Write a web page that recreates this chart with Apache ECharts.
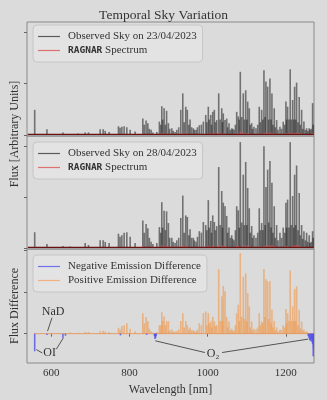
<!DOCTYPE html>
<html><head><meta charset="utf-8">
<script src="https://cdn.jsdelivr.net/npm/echarts@6.0.0/dist/echarts.min.js"></script>
<style>html,body{margin:0;padding:0;background:#dbdbdb}#c{width:327px;height:400px}</style>
</head><body><div id="c"></div>
<script>
// ---- data (wavelength in nm, flux in arbitrary units) ----
const lineWaves = [
  557.7, 589.0, 629.9, 648.5, 668, 686.8, 695.3, 725.1, 732.8, 738,
  748, 771.9, 776, 780.6, 786.4, 793.3, 801.8, 814.5, 834.2, 838,
  842.6, 847, 851, 855.4, 860, 870, 876.6, 880, 882.7, 885,
  888.6, 892, 895, 899.6, 903, 908.3, 912, 916.7, 921, 926,
  931.3, 936.4, 940, 944, 948.1, 952, 955, 959, 963.4, 966,
  970.3, 974, 978.8, 984, 989, 995.1, 998, 1001.7, 1004, 1007.9,
  1010, 1013, 1017.1, 1020, 1023.2, 1028.3, 1032, 1036, 1038, 1040,
  1044.4, 1048.7, 1051, 1054.6, 1058, 1061.5, 1064, 1067.4, 1071, 1074.3,
  1078.4, 1081, 1083.5, 1087, 1091.1, 1094, 1097.3, 1100, 1102.4, 1106.5,
  1109, 1112.6, 1115, 1118.5, 1123.6, 1128, 1132, 1135, 1138.1, 1141,
  1144, 1147, 1149.1, 1153.5, 1156, 1159.3, 1162, 1164.4, 1167, 1170.3,
  1173, 1176.4, 1180, 1184.9, 1189, 1193.3, 1197, 1200.2, 1202, 1204.5,
  1208, 1211.2, 1214, 1217.3, 1220, 1222.4, 1225, 1227.5, 1231, 1234.2,
  1237, 1240.3, 1243, 1246.2, 1250, 1253.1, 1256, 1259.7, 1262, 1265,
  1268.4, 1270
];
const flux23 = [
  0.49, 0.11, 0.05, 0.02, 0.03, 0.05, 0.05, 0.11, 0.11, 0.08,
  0.06, 0.17, 0.14, 0.16, 0.17, 0.15, 0.10, 0.07, 0.32, 0.20,
  0.28, 0.23, 0.12, 0.10, 0.05, 0.06, 0.26, 0.20, 0.56, 0.30,
  0.52, 0.20, 0.47, 0.23, 0.12, 0.13, 0.08, 0.06, 0.10, 0.15,
  0.49, 0.81, 0.25, 0.55, 0.49, 0.20, 0.30, 0.15, 0.13, 0.10,
  0.10, 0.15, 0.19, 0.20, 0.26, 0.39, 0.25, 0.55, 0.30, 0.39,
  0.20, 0.45, 0.49, 0.25, 0.29, 0.81, 0.30, 0.52, 0.25, 0.42,
  0.29, 0.32, 0.15, 0.23, 0.10, 0.13, 0.12, 0.10, 0.20, 0.45,
  0.36, 0.30, 1.23, 0.35, 0.81, 0.30, 0.87, 0.30, 0.65, 0.52,
  0.20, 0.23, 0.12, 0.16, 0.13, 0.20, 0.55, 0.25, 0.49, 0.30,
  1.26, 0.35, 1.04, 0.94, 0.30, 1.10, 0.30, 0.81, 0.20, 0.52,
  0.15, 0.29, 0.10, 0.16, 0.12, 0.26, 0.20, 0.65, 0.30, 0.55,
  0.30, 1.28, 0.30, 0.68, 0.30, 0.94, 0.30, 1.02, 0.25, 0.74,
  0.20, 0.49, 0.12, 0.26, 0.10, 0.13, 0.08, 0.13, 0.10, 0.12,
  0.62, 0.20
];
const model23 = [
  0.47, 0.10, 0.05, 0.02, 0.03, 0.05, 0.05, 0.12, 0.12, 0.08,
  0.06, 0.18, 0.14, 0.17, 0.18, 0.16, 0.10, 0.07, 0.35, 0.20,
  0.30, 0.25, 0.12, 0.10, 0.05, 0.06, 0.28, 0.20, 0.60, 0.30,
  0.55, 0.20, 0.50, 0.24, 0.12, 0.13, 0.08, 0.06, 0.10, 0.15,
  0.52, 0.85, 0.25, 0.58, 0.52, 0.20, 0.32, 0.15, 0.13, 0.10,
  0.10, 0.15, 0.20, 0.20, 0.28, 0.42, 0.25, 0.58, 0.30, 0.42,
  0.20, 0.48, 0.52, 0.25, 0.31, 0.86, 0.30, 0.55, 0.25, 0.45,
  0.31, 0.34, 0.15, 0.24, 0.10, 0.13, 0.12, 0.10, 0.20, 0.48,
  0.39, 0.30, 1.29, 0.35, 0.85, 0.30, 0.91, 0.30, 0.69, 0.55,
  0.20, 0.24, 0.12, 0.17, 0.13, 0.20, 0.58, 0.25, 0.52, 0.30,
  1.30, 0.35, 1.09, 0.98, 0.30, 1.15, 0.30, 0.85, 0.20, 0.55,
  0.15, 0.31, 0.10, 0.17, 0.12, 0.28, 0.20, 0.69, 0.30, 0.58,
  0.30, 1.32, 0.30, 0.72, 0.30, 0.98, 0.30, 1.06, 0.25, 0.78,
  0.20, 0.52, 0.12, 0.28, 0.10, 0.14, 0.08, 0.14, 0.10, 0.13,
  0.66, 0.20
];
const flux28 = [
  0.31, 0.08, 0.04, 0.03, 0.02, 0.10, 0.06, 0.15, 0.15, 0.12,
  0.10, 0.28, 0.22, 0.25, 0.30, 0.31, 0.22, 0.10, 0.54, 0.30,
  0.47, 0.39, 0.20, 0.12, 0.08, 0.10, 0.41, 0.30, 0.90, 0.40,
  0.73, 0.35, 0.72, 0.49, 0.20, 0.20, 0.12, 0.10, 0.15, 0.20,
  0.59, 1.03, 0.30, 0.64, 0.61, 0.25, 0.37, 0.20, 0.20, 0.15,
  0.12, 0.22, 0.33, 0.30, 0.51, 0.45, 0.35, 0.94, 0.40, 0.53,
  0.30, 0.64, 0.51, 0.35, 0.43, 1.59, 0.45, 1.12, 0.40, 0.89,
  0.82, 0.63, 0.30, 0.40, 0.20, 0.25, 0.18, 0.15, 0.35, 0.82,
  0.74, 0.40, 2.08, 0.50, 1.44, 0.45, 1.69, 0.45, 1.18, 0.78,
  0.30, 0.43, 0.20, 0.25, 0.20, 0.30, 0.78, 0.35, 0.49, 0.35,
  2.00, 0.45, 1.20, 1.54, 0.50, 1.71, 0.40, 1.28, 0.30, 0.82,
  0.20, 0.45, 0.15, 0.30, 0.20, 0.40, 0.30, 0.89, 0.40, 0.95,
  0.40, 2.08, 0.45, 1.02, 0.40, 1.44, 0.45, 1.62, 0.35, 1.08,
  0.25, 0.45, 0.18, 0.33, 0.15, 0.30, 0.12, 0.25, 0.10, 0.12,
  0.33, 0.20
];
const model28 = [
  0.30, 0.08, 0.04, 0.03, 0.02, 0.10, 0.06, 0.16, 0.16, 0.12,
  0.10, 0.30, 0.22, 0.27, 0.32, 0.33, 0.22, 0.10, 0.58, 0.30,
  0.50, 0.41, 0.20, 0.12, 0.08, 0.10, 0.44, 0.30, 0.95, 0.40,
  0.77, 0.35, 0.76, 0.52, 0.20, 0.20, 0.12, 0.10, 0.15, 0.20,
  0.62, 1.08, 0.30, 0.68, 0.64, 0.25, 0.39, 0.20, 0.20, 0.15,
  0.12, 0.22, 0.35, 0.30, 0.54, 0.48, 0.35, 0.98, 0.40, 0.56,
  0.30, 0.68, 0.54, 0.35, 0.45, 1.64, 0.45, 1.17, 0.40, 0.93,
  0.86, 0.66, 0.30, 0.42, 0.20, 0.25, 0.18, 0.15, 0.35, 0.86,
  0.78, 0.40, 2.10, 0.50, 1.49, 0.45, 1.74, 0.45, 1.23, 0.82,
  0.30, 0.45, 0.20, 0.26, 0.20, 0.30, 0.82, 0.35, 0.52, 0.35,
  2.04, 0.45, 1.25, 1.59, 0.50, 1.76, 0.40, 1.33, 0.30, 0.86,
  0.20, 0.47, 0.15, 0.31, 0.20, 0.42, 0.30, 0.93, 0.40, 0.99,
  0.40, 2.10, 0.45, 1.06, 0.40, 1.49, 0.45, 1.67, 0.35, 1.13,
  0.25, 0.48, 0.18, 0.35, 0.15, 0.31, 0.12, 0.26, 0.10, 0.12,
  0.35, 0.20
];
const diffPos = [
  0, 0, 0, 0.03, 0.02, 0.04, 0.04, 0.06, 0.07, 0.05,
  0.04, 0.14, 0.10, 0.18, 0.20, 0.25, 0.12, 0.05, 0.49, 0.25,
  0.40, 0.30, 0.12, 0.06, 0.03, 0.04, 0.20, 0.20, 0.51, 0.30,
  0.41, 0.20, 0.30, 0.30, 0.08, 0.10, 0.05, 0.05, 0.06, 0.10,
  0.30, 0.49, 0.15, 0.30, 0.20, 0.10, 0.15, 0.08, 0.08, 0.06,
  0.06, 0.10, 0.25, 0.20, 0.49, 0.53, 0.20, 0.49, 0.25, 0.29,
  0.15, 0.40, 0.29, 0.18, 0.20, 1.54, 0.30, 0.89, 0.30, 1.14,
  1.01, 0.40, 0.15, 0.29, 0.08, 0.12, 0.06, 0.08, 0.20, 0.49,
  0.69, 0.30, 1.92, 0.40, 1.36, 0.35, 1.44, 0.30, 0.97, 0.65,
  0.15, 0.29, 0.08, 0.12, 0.10, 0.15, 0.49, 0.20, 0.29, 0.25,
  1.54, 0.40, 1.30, 1.25, 0.35, 1.25, 0.25, 0.57, 0.15, 0.30,
  0.08, 0.15, 0.05, 0.10, 0.08, 0.20, 0.15, 0.59, 0.25, 0.49,
  0.30, 1.51, 0.30, 0.65, 0.30, 1.06, 0.30, 1.13, 0.20, 0.57,
  0.12, 0.29, 0.06, 0.10, 0.04, 0.05, 0.03, 0, 0, 0,
  0, 0
];
const negWaves = [557.7, 589.0, 629.9, 636.4, 777.0, 844.0, 864.0, 865.5, 867.0, 868.5,
                  1257, 1259, 1261, 1263, 1265, 1267, 1268.5, 1270, 1271];
const diffNeg = [-0.42, -0.03, -0.10, -0.05, -0.04, -0.03, -0.06, -0.13, -0.10, -0.05,
                 -0.05, -0.10, -0.15, -0.18, -0.14, -0.20, -0.25, -0.54, -0.35];
const continuumWaves = [540, 1271];
const continuumLevel = [0.01, 0.01];
const zeroLevel = [0, 0];
const zeroWaves = [556, 1271];
const xTicks = [600, 800, 1000, 1200];
const fluxTicks = [0, 1, 2];
const diffTicks = [0, 1, 2];
const seriesNames = {
  obs23: 'Observed Sky on 23/04/2023', obs28: 'Observed Sky on 28/04/2023',
  model: 'RAGNAR Spectrum', neg: 'Negative Emission Difference', pos: 'Positive Emission Difference'
};
// annotations: [label, text position, leader lines]
const annotLabels = [['NaD', 605, 0.53], ['OI', 596, -0.45], ['O\u2082', 1014, -0.47]];
const annotLines = [
  [[602, 0.38], [590.5, 0.06]],
  [[562, -0.38], [577, -0.46]],
  [[613, -0.37], [631, -0.10]],
  [[993, -0.45], [866, -0.17]],
  [[1037, -0.45], [1257, -0.13]]
];

// ---- chart ----
const pair = (ws, vs) => ws.map((w, i) => [w, vs[i]]);
// part of the model spectrum that rises above the observed line (drawn as red tip on top of it)
const tips = (ws, model, obs) => ws.map((w, i) => [w, Math.max(model[i] - obs[i], 0)]);
const SERIF = '"Liberation Serif", "DejaVu Serif", serif';
const TXT = '#333';
const chart = echarts.init(document.getElementById('c'), null, {renderer: 'canvas'});
const gridTops = [22, 136, 249], gridH = [114, 113, 114];
const grids = gridTops.map((t, i) => ({left: 27, width: 287, top: t, height: gridH[i], show: true,
  borderColor: '#8a8a8a', borderWidth: 1, backgroundColor: 'transparent'}));
const xAxes = [0, 1, 2].map(i => ({
  type: 'value', gridIndex: i, min: 538, max: 1272,
  axisLine: {show: false}, splitLine: {show: false},
  axisTick: {show: i === 2, customValues: xTicks, length: 3, lineStyle: {color: '#666'}},
  axisLabel: {show: i === 2, customValues: xTicks, formatter: v => String(v),
    fontFamily: SERIF, fontSize: 11, color: TXT, margin: 5},
  name: i === 2 ? 'Wavelength [nm]' : '', nameLocation: 'middle', nameGap: 21,
  nameTextStyle: {fontFamily: SERIF, fontSize: 12, color: TXT}
}));
const yAx = (i, min, max, ticks) => ({
  type: 'value', gridIndex: i, min, max,
  axisLine: {show: false}, splitLine: {show: false}, axisLabel: {show: false},
  axisTick: {show: true, customValues: ticks, length: 3, lineStyle: {color: '#666'}}
});
const legendColors = {};
legendColors[seriesNames.obs23] = '#5a5a5a';
legendColors[seriesNames.obs28] = '#5a5a5a';
legendColors[seriesNames.model] = '#e07070';
legendColors[seriesNames.neg] = '#7070e8';
legendColors[seriesNames.pos] = '#f0b080';
const legendBase = (top, names) => ({
  top, left: 33, orient: 'vertical', icon: 'rect', itemWidth: 22, itemHeight: 1.2,
  data: names.map(n => ({name: n, itemStyle: {color: legendColors[n], borderWidth: 0}})),
  itemStyle: {borderWidth: 0},
  itemGap: 3, padding: [6, 6, 6, 5], backgroundColor: 'rgba(228,228,228,0.85)',
  borderColor: '#c6c6c6', borderWidth: 1, borderRadius: 4, selectedMode: false,
  textStyle: {fontFamily: SERIF, fontSize: 11, color: TXT, padding: [0, 0, 0, 3],
    rich: {m: {fontFamily: '"DejaVu Sans Mono", monospace', fontWeight: 'bold', fontSize: 9.5, color: TXT}}},
  formatter: n => n === seriesNames.model ? '{m|RAGNAR} Spectrum' : n
});
const OBS = {color: 'rgba(25,25,25,0.55)'};
const MOD = {color: 'rgba(235,95,95,0.75)'};
const bars = (name, xi, data, style, w, z, stack) => ({
  type: 'bar', name, xAxisIndex: xi, yAxisIndex: xi, data, barWidth: w, barGap: '-100%',
  itemStyle: style, z, silent: true, stack
});
const flat = (xi, data, color, w, z) => ({
  type: 'line', xAxisIndex: xi, yAxisIndex: xi, data, showSymbol: false, silent: true,
  lineStyle: {color, width: w}, z
});
const option = {
  animation: false,
  backgroundColor: '#dbdbdb',
  title: {text: 'Temporal Sky Variation', left: 'center', top: 3,
    textStyle: {fontFamily: SERIF, fontSize: 13.5, fontWeight: 'normal', color: TXT}},
  grid: grids, xAxis: xAxes,
  yAxis: [yAx(0, -0.02, 2.2, fluxTicks), yAx(1, -0.02, 2.2, fluxTicks), yAx(2, -0.7, 2.02, diffTicks)],
  legend: [
    legendBase(25, [seriesNames.obs23, seriesNames.model]),
    legendBase(142, [seriesNames.obs28, seriesNames.model]),
    legendBase(255, [seriesNames.neg, seriesNames.pos])
  ],
  series: [
    bars(seriesNames.obs23, 0, pair(lineWaves, flux23), OBS, 1.6, 3, 's23'),
    bars(seriesNames.model, 0, tips(lineWaves, model23, flux23), MOD, 1.6, 3, 's23'),
    flat(0, pair(continuumWaves, continuumLevel), '#6a1212', 1.3, 4),
    bars(seriesNames.obs28, 1, pair(lineWaves, flux28), OBS, 1.6, 3, 's28'),
    bars(seriesNames.model, 1, tips(lineWaves, model28, flux28), MOD, 1.6, 3, 's28'),
    flat(1, pair(continuumWaves, continuumLevel), '#6a1212', 1.3, 4),
    bars(seriesNames.pos, 2, pair(lineWaves, diffPos), {color: 'rgba(240,150,70,0.6)'}, 1.6, 2),
    flat(2, pair(zeroWaves, zeroLevel), 'rgba(230,150,90,0.9)', 1, 3),
    Object.assign(bars(seriesNames.neg, 2, pair(negWaves, diffNeg), {color: 'rgba(80,80,235,0.8)'}, 1.6, 4), {
      markLine: {silent: true, symbol: 'none', animation: false,
        lineStyle: {color: '#444', width: 0.9, type: 'solid'}, label: {show: false},
        data: annotLines.map(l => [{coord: l[0]}, {coord: l[1]}])},
      markPoint: {silent: true, symbol: 'circle', symbolSize: 1, itemStyle: {color: 'rgba(0,0,0,0)'},
        label: {show: true, position: 'inside', formatter: '{b}', fontFamily: SERIF, fontSize: 12, color: TXT},
        data: annotLabels.map(a => ({name: a[0], coord: [a[1], a[2]]}))}
    })
  ],
  graphic: [
    {type: 'text', x: 15, y: 134, rotation: Math.PI / 2,
      style: {text: 'Flux [Arbitrary Units]', font: '12px ' + SERIF, fill: TXT, align: 'center', verticalAlign: 'middle'}},
    {type: 'text', x: 15, y: 306, rotation: Math.PI / 2,
      style: {text: 'Flux Difference', font: '12px ' + SERIF, fill: TXT, align: 'center', verticalAlign: 'middle'}}
  ]
};
chart.setOption(option);
</script></body></html>
